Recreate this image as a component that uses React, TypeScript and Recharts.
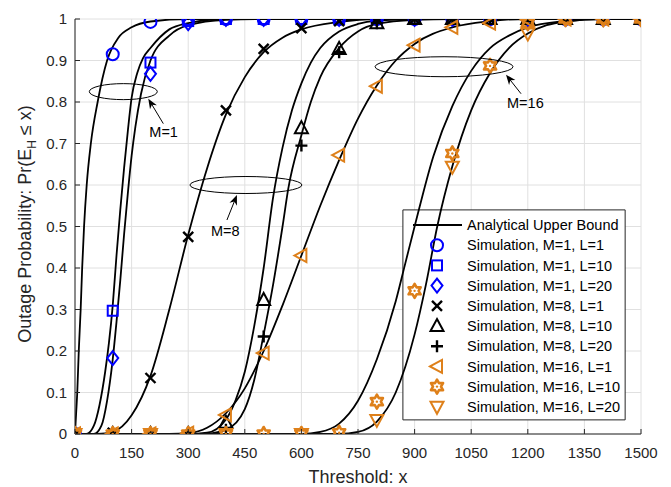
import React from "react"
import {
  ComposedChart,
  Line,
  Scatter,
  XAxis,
  YAxis,
  CartesianGrid,
  ReferenceArea,
  ReferenceDot,
  Legend,
} from "recharts"

const BLUE = "#0000ff"
const BLACK = "#000000"
const ORANGE = "#de801a"
const AXIS = "#262626"
const FONT = "'Liberation Sans', Arial, Helvetica, sans-serif"

const xTicks = [0, 150, 300, 450, 600, 750, 900, 1050, 1200, 1350, 1500]
const yTicks = [0, 0.1, 0.2, 0.3, 0.4, 0.5, 0.6, 0.7, 0.8, 0.9, 1]

// simulation abscissas
const simX = [0, 100, 200, 300, 400, 500, 600, 700, 800, 900, 1000, 1100, 1200, 1300, 1400, 1500]
const simXEven = [0, 200, 400, 600, 800, 1000, 1200, 1400]

// simulation results
const simM1L1 = [0, 0.915, 0.993, 1, 1, 1, 1, 1, 1, 1, 1, 1, 1, 1, 1, 1]
const simM1L10 = [0, 0.297, 0.895, 0.995, 1, 1, 1, 1, 1, 1, 1, 1, 1, 1, 1, 1]
const simM1L20 = [0, 0.183, 0.868, 0.99, 1, 1, 1, 1, 1, 1, 1, 1, 1, 1, 1, 1]
const simM8L1 = [0, 0.003, 0.135, 0.475, 0.78, 0.928, 0.978, 0.995, 1, 1, 1, 1, 1, 1, 1, 1]
const simM8L10 = [0, 0, 0, 0, 0.027, 0.323, 0.737, 0.928, 0.99, 1, 1, 1, 1, 1, 1, 1]
const simM8L20 = [0, 0, 0, 0, 0.01, 0.235, 0.695, 0.92, 0.99, 1, 1, 1, 1, 1, 1, 1]
const simM16L1 = [0, 0, 0, 0.002, 0.046, 0.195, 0.43, 0.672, 0.838, 0.937, 0.98, 0.99, 0.998, 1, 1, 1]
const simM16L10 = [0, 0, 0, 0, 0, 0, 0, 0.003, 0.078, 0.345, 0.676, 0.887, 0.99, 1, 1, 1]
const simM16L20 = [0, 0, 0, 0, 0.034, 0.644, 0.965, 1]

// analytical upper bounds, [x, Pr]
const ubM1L1: [number, number][] = [
  [0, 0], [3, 0.05], [6, 0.1], [10, 0.2], [15, 0.3], [19, 0.4], [24, 0.5], [31, 0.6],
  [42, 0.7], [60, 0.8], [85, 0.9], [115, 0.955], [150, 0.98], [200, 0.994], [300, 1], [1500, 1],
]
const ubM1L10: [number, number][] = [
  [0, 0], [30, 0], [50, 0.02], [65, 0.07], [80, 0.15], [90, 0.22], [100, 0.31], [110, 0.43],
  [120, 0.54], [130, 0.64], [140, 0.73], [150, 0.81], [165, 0.87], [180, 0.905], [200, 0.93],
  [250, 0.975], [300, 0.99], [400, 1], [1500, 1],
]
const ubM1L20: [number, number][] = [
  [0, 0], [50, 0], [70, 0.02], [85, 0.08], [100, 0.18], [110, 0.27], [120, 0.37], [130, 0.48],
  [140, 0.58], [150, 0.67], [160, 0.74], [175, 0.82], [200, 0.9], [250, 0.96], [300, 0.985],
  [400, 0.998], [500, 1], [1500, 1],
]
const ubM8L1: [number, number][] = [
  [0, 0], [60, 0], [100, 0.005], [150, 0.045], [200, 0.14], [250, 0.3], [300, 0.48], [350, 0.64],
  [400, 0.77], [450, 0.86], [500, 0.92], [550, 0.955], [600, 0.975], [700, 0.993], [800, 1], [1500, 1],
]
const ubM8L10: [number, number][] = [
  [0, 0], [300, 0], [350, 0.003], [400, 0.035], [425, 0.08], [450, 0.15], [475, 0.26], [500, 0.4],
  [525, 0.57], [550, 0.69], [575, 0.78], [600, 0.845], [625, 0.895], [650, 0.93], [700, 0.97],
  [750, 0.988], [800, 0.996], [900, 1], [1500, 1],
]
const ubM8L20: [number, number][] = [
  [0, 0], [320, 0], [350, 0.001], [400, 0.01], [450, 0.06], [475, 0.13], [500, 0.24], [525, 0.36],
  [550, 0.5], [565, 0.59], [600, 0.72], [625, 0.8], [650, 0.86], [700, 0.93], [750, 0.97],
  [800, 0.988], [900, 0.998], [1000, 1], [1500, 1],
]
const ubM16L1: [number, number][] = [
  [0, 0], [250, 0], [300, 0.002], [350, 0.015], [400, 0.05], [450, 0.11], [500, 0.2], [550, 0.31],
  [600, 0.43], [650, 0.55], [700, 0.66], [750, 0.76], [800, 0.84], [850, 0.9], [900, 0.94],
  [1000, 0.98], [1100, 0.995], [1200, 1], [1500, 1],
]
const ubM16L10: [number, number][] = [
  [0, 0], [600, 0], [650, 0.005], [700, 0.025], [750, 0.08], [800, 0.18], [850, 0.32], [875, 0.41],
  [900, 0.5], [950, 0.67], [1000, 0.79], [1050, 0.875], [1100, 0.93], [1150, 0.96], [1200, 0.98],
  [1300, 0.995], [1400, 1], [1500, 1],
]
const ubM16L20: [number, number][] = [
  [0, 0], [700, 0], [750, 0.005], [800, 0.03], [850, 0.1], [900, 0.24], [930, 0.36], [960, 0.5],
  [1000, 0.645], [1050, 0.78], [1100, 0.87], [1150, 0.93], [1200, 0.965], [1250, 0.985],
  [1300, 0.994], [1400, 1], [1500, 1],
]

const curves = [ubM1L1, ubM1L10, ubM1L20, ubM8L1, ubM8L10, ubM8L20, ubM16L1, ubM16L10, ubM16L20]

const toPts = (c: [number, number][]) => c.map(([x, y]) => ({ x, y }))
const zipPts = (xs: number[], ys: number[]) => ys.map((y, i) => ({ x: xs[i], y }))

const series = [
  { name: "Simulation, M=1, L=1", kind: "o", color: BLUE, xs: simX, ys: simM1L1 },
  { name: "Simulation, M=1, L=10", kind: "s", color: BLUE, xs: simX, ys: simM1L10 },
  { name: "Simulation, M=1, L=20", kind: "d", color: BLUE, xs: simX, ys: simM1L20 },
  { name: "Simulation, M=8, L=1", kind: "x", color: BLACK, xs: simX, ys: simM8L1 },
  { name: "Simulation, M=8, L=10", kind: "^", color: BLACK, xs: simX, ys: simM8L10 },
  { name: "Simulation, M=8, L=20", kind: "+", color: BLACK, xs: simX, ys: simM8L20 },
  { name: "Simulation, M=16, L=1", kind: "<", color: ORANGE, xs: simX, ys: simM16L1 },
  { name: "Simulation, M=16, L=10", kind: "h", color: ORANGE, xs: simX, ys: simM16L10 },
  { name: "Simulation, M=16, L=20", kind: "v", color: ORANGE, xs: simXEven, ys: simM16L20 },
]

function hexagram(cx: number, cy: number, R: number, r: number) {
  const p: string[] = []
  for (let i = 0; i < 12; i++) {
    const a = (Math.PI / 6) * i - Math.PI / 2
    const rad = i % 2 === 0 ? R : r
    p.push(`${cx + rad * Math.cos(a)},${cy + rad * Math.sin(a)}`)
  }
  return p.join(" ")
}

function Marker({ kind, color, cx, cy }: { kind: string; color: string; cx: number; cy: number }) {
  const s = { fill: "none", stroke: color, strokeWidth: 2 }
  switch (kind) {
    case "o":
      return <circle cx={cx} cy={cy} r={6} {...s} />
    case "s":
      return <rect x={cx - 5} y={cy - 5} width={10} height={10} {...s} />
    case "d":
      return <polygon points={`${cx},${cy - 7} ${cx + 5.5},${cy} ${cx},${cy + 7} ${cx - 5.5},${cy}`} {...s} />
    case "x":
      return <path d={`M${cx - 5},${cy - 5}L${cx + 5},${cy + 5}M${cx + 5},${cy - 5}L${cx - 5},${cy + 5}`} {...s} strokeWidth={2.4} />
    case "^":
      return <polygon points={`${cx},${cy - 7} ${cx + 6.5},${cy + 5} ${cx - 6.5},${cy + 5}`} {...s} />
    case "+":
      return <path d={`M${cx - 6},${cy}L${cx + 6},${cy}M${cx},${cy - 6}L${cx},${cy + 6}`} {...s} strokeWidth={2.4} />
    case "<":
      return <polygon points={`${cx - 7},${cy} ${cx + 5},${cy - 6.5} ${cx + 5},${cy + 6.5}`} {...s} />
    case "v":
      return <polygon points={`${cx},${cy + 7} ${cx + 6.5},${cy - 5} ${cx - 6.5},${cy - 5}`} {...s} />
    case "h":
      return (
        <g>
          <polygon points={hexagram(cx, cy, 7, 4)} {...s} strokeWidth={2.6} strokeLinejoin="round" />
          <circle cx={cx} cy={cy} r={1.2} fill={color} />
        </g>
      )
    default:
      return null
  }
}

const XTick = (p: any) => {
  const ay = p.y - 13
  return (
    <g>
      <line x1={p.x} x2={p.x} y1={ay} y2={ay - 5} stroke={AXIS} />
      <text x={p.x} y={p.y} dy="0.71em" textAnchor="middle" fontSize={15} fill={AXIS} fontFamily={FONT}>
        {p.payload.value}
      </text>
    </g>
  )
}

const YTick = (p: any) => {
  const ax = p.x + 8
  return (
    <g>
      <line x1={ax} x2={ax + 5} y1={p.y} y2={p.y} stroke={AXIS} />
      <text x={p.x} y={p.y} dy="0.355em" textAnchor="end" fontSize={15} fill={AXIS} fontFamily={FONT}>
        {p.payload.value}
      </text>
    </g>
  )
}

const TopTick = (p: any) => <line x1={p.x} x2={p.x} y1={p.y} y2={p.y + 5} stroke={AXIS} />
const RightTick = (p: any) => <line x1={p.x} x2={p.x - 5} y1={p.y} y2={p.y} stroke={AXIS} />

const YLabel = () => (
  <text transform="translate(31,224) rotate(-90)" textAnchor="middle" fontSize={18} fill={AXIS} fontFamily={FONT}>
    Outage Probability: Pr(E
    <tspan fontSize={12} dy={5}>H</tspan>
    <tspan dy={-5}> ≤ x)</tspan>
  </text>
)

function Callout(props: any) {
  const { cx, cy, rx, ry, tip, tail, text, tx, ty } = props
  const x1 = cx + tail[0]
  const y1 = cy + tail[1]
  const x2 = cx + tip[0]
  const y2 = cy + tip[1]
  const len = Math.hypot(x2 - x1, y2 - y1)
  const ux = (x2 - x1) / len
  const uy = (y2 - y1) / len
  const bx = x2 - ux * 10
  const by = y2 - uy * 10
  const head = `${x2},${y2} ${bx - uy * 4},${by + ux * 4} ${x2 - ux * 7},${y2 - uy * 7} ${bx + uy * 4},${by - ux * 4}`
  return (
    <g>
      <ellipse cx={cx} cy={cy} rx={rx} ry={ry} fill="none" stroke={BLACK} strokeWidth={1} />
      <line x1={x1} y1={y1} x2={x2 - ux * 6} y2={y2 - uy * 6} stroke={BLACK} strokeWidth={1} />
      <polygon points={head} fill={BLACK} />
      <text x={cx + tx} y={cy + ty} fontSize={14.5} fill={BLACK} fontFamily={FONT}>
        {text}
      </text>
    </g>
  )
}

const LegendBox = () => (
  <svg width={222} height={210} style={{ display: "block" }}>
    <line x1={10} x2={59} y1={15} y2={15} stroke={BLACK} strokeWidth={1.8} />
    <text x={64} y={15} dy="0.355em" fontSize={14.5} fill={BLACK} fontFamily={FONT}>
      Analytical Upper Bound
    </text>
    {series.map((s, i) => {
      const y = 15 + (i + 1) * 20.2
      return (
        <g key={s.name}>
          <Marker kind={s.kind} color={s.color} cx={34} cy={y} />
          <text x={64} y={y} dy="0.355em" fontSize={14.5} fill={BLACK} fontFamily={FONT}>
            {s.name}
          </text>
        </g>
      )
    })}
  </svg>
)

export default function App() {
  return (
    <div style={{ position: "absolute", left: 0, top: 0, background: "#fff" }}>
      <ComposedChart width={671} height={487} margin={{ top: 19, right: 30, bottom: 0, left: 0 }}>
        <CartesianGrid stroke="#e0e0e0" strokeWidth={1} />
        <XAxis
          dataKey="x"
          type="number"
          domain={[0, 1500]}
          ticks={xTicks}
          height={53}
          tickSize={0}
          tickMargin={13}
          tickLine={false}
          tick={<XTick />}
          axisLine={{ stroke: AXIS }}
          allowDataOverflow
          label={{ value: "Threshold: x", position: "insideBottom", offset: 4, fontSize: 18, fill: AXIS, fontFamily: FONT }}
        />
        <XAxis
          xAxisId="top"
          orientation="top"
          type="number"
          domain={[0, 1500]}
          ticks={xTicks}
          height={0}
          tickSize={0}
          tickMargin={0}
          tickLine={false}
          tick={<TopTick />}
          axisLine={{ stroke: AXIS }}
          allowDataOverflow
        />
        <YAxis
          dataKey="y"
          type="number"
          domain={[0, 1]}
          ticks={yTicks}
          width={75}
          tickSize={0}
          tickMargin={8}
          tickLine={false}
          tick={<YTick />}
          axisLine={{ stroke: AXIS }}
          allowDataOverflow
          label={<YLabel />}
        />
        <YAxis
          yAxisId="right"
          orientation="right"
          type="number"
          domain={[0, 1]}
          ticks={yTicks}
          width={0}
          tickSize={0}
          tickMargin={0}
          tickLine={false}
          tick={<RightTick />}
          axisLine={{ stroke: AXIS }}
          allowDataOverflow
        />
        <ReferenceArea x1={869} x2={1458} y1={0.034} y2={0.54} fill="#ffffff" fillOpacity={1} stroke={AXIS} strokeWidth={1} />
        {curves.map((c, i) => (
          <Line
            key={"ub" + i}
            data={toPts(c)}
            dataKey="y"
            type="monotone"
            stroke={BLACK}
            strokeWidth={1.8}
            dot={false}
            legendType="none"
            isAnimationActive={false}
          />
        ))}
        {series.map((s) => (
          <Scatter
            key={s.name}
            name={s.name}
            data={zipPts(s.xs, s.ys)}
            dataKey="y"
            isAnimationActive={false}
            shape={(p: any) => <Marker kind={s.kind} color={s.color} cx={p.cx} cy={p.cy} />}
          />
        ))}
        <ReferenceDot
          x={128}
          y={0.825}
          r={1}
          shape={(p: any) => (
            <Callout cx={p.cx} cy={p.cy} rx={34} ry={8} tip={[25, 7]} tail={[40, 32]} text="M=1" tx={26} ty={45} />
          )}
        />
        <ReferenceDot
          x={453}
          y={0.6}
          r={1}
          shape={(p: any) => (
            <Callout cx={p.cx} cy={p.cy} rx={56} ry={8.5} tip={[-9, 10]} tail={[-19, 35]} text="M=8" tx={-35} ty={51} />
          )}
        />
        <ReferenceDot
          x={978}
          y={0.885}
          r={1}
          shape={(p: any) => (
            <Callout cx={p.cx} cy={p.cy} rx={69} ry={10} tip={[62, 8]} tail={[77, 27]} text="M=16" tx={63} ty={41} />
          )}
        />
        <Legend
          layout="vertical"
          align="center"
          verticalAlign="middle"
          content={() => <LegendBox />}
          wrapperStyle={{ left: 403, top: 210, width: 222, height: 210 }}
        />
      </ComposedChart>
    </div>
  )
}
